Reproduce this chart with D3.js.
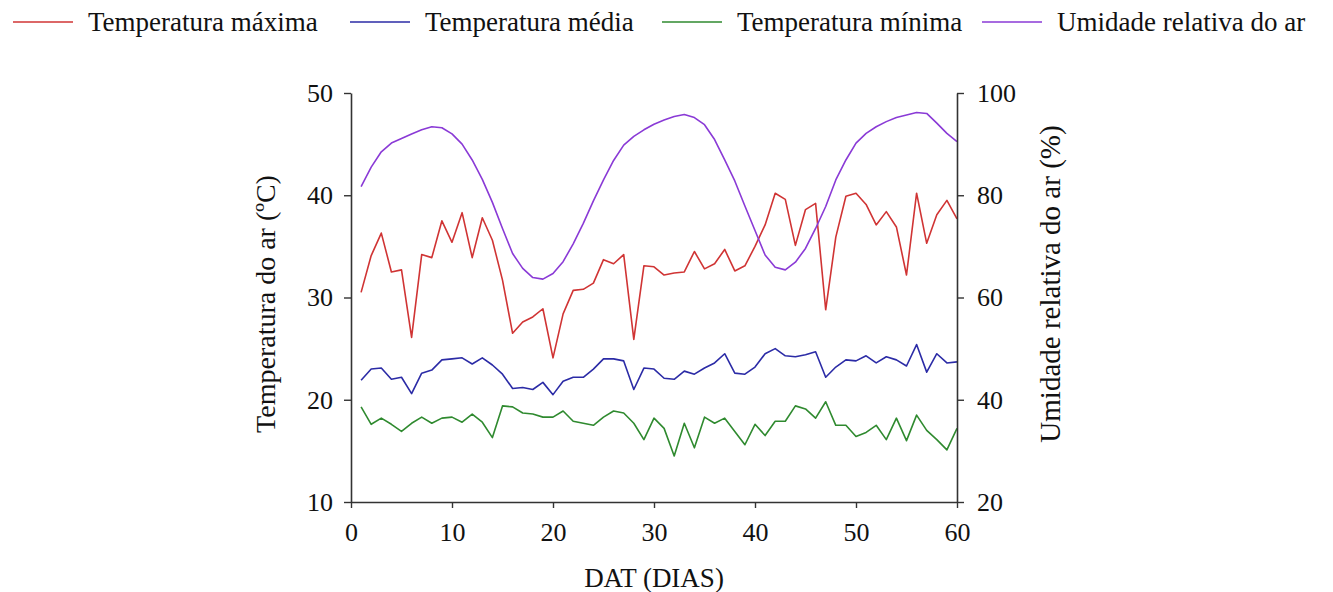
<!DOCTYPE html>
<html>
<head>
<meta charset="utf-8">
<script src="https://cdn.jsdelivr.net/npm/d3@7"></script>
<style>
  body { margin: 0; background: #fff; }
  svg text { font-family: "Liberation Serif", "Times New Roman", serif; fill: #111; }
</style>
</head>
<body>
<div id="chart"></div>
<script>
// days after transplanting
const days = d3.range(1, 61);

const tempMax = [30.5, 34.1, 36.3, 32.5, 32.7, 26.1, 34.2, 33.9, 37.5, 35.4,
                 38.3, 33.9, 37.8, 35.6, 31.7, 26.5, 27.6, 28.1, 28.9, 24.1,
                 28.4, 30.7, 30.8, 31.4, 33.7, 33.3, 34.2, 25.9, 33.1, 33.0,
                 32.2, 32.4, 32.5, 34.5, 32.8, 33.3, 34.7, 32.6, 33.1, 35.0,
                 37.1, 40.2, 39.6, 35.1, 38.6, 39.2, 28.8, 35.9, 39.9, 40.2,
                 39.1, 37.1, 38.4, 36.9, 32.2, 40.2, 35.3, 38.1, 39.5, 37.7];

const tempMed = [21.9, 23.0, 23.1, 22.0, 22.2, 20.6, 22.6, 22.9, 23.9, 24.0,
                 24.1, 23.5, 24.1, 23.4, 22.5, 21.1, 21.2, 21.0, 21.7, 20.5,
                 21.8, 22.2, 22.2, 23.0, 24.0, 24.0, 23.8, 21.0, 23.1, 23.0,
                 22.1, 22.0, 22.8, 22.5, 23.1, 23.6, 24.5, 22.6, 22.5, 23.2,
                 24.5, 25.0, 24.3, 24.2, 24.4, 24.7, 22.2, 23.2, 23.9, 23.8,
                 24.3, 23.6, 24.2, 23.9, 23.3, 25.4, 22.7, 24.5, 23.6, 23.7];

const tempMin = [19.3, 17.6, 18.2, 17.6, 16.9, 17.7, 18.3, 17.7, 18.2, 18.3,
                 17.8, 18.6, 17.8, 16.3, 19.4, 19.3, 18.7, 18.6, 18.3, 18.3,
                 18.9, 17.9, 17.7, 17.5, 18.3, 18.9, 18.7, 17.7, 16.1, 18.2,
                 17.2, 14.5, 17.7, 15.3, 18.3, 17.7, 18.2, 16.9, 15.6, 17.6,
                 16.5, 17.9, 17.9, 19.4, 19.1, 18.2, 19.8, 17.5, 17.5, 16.4,
                 16.8, 17.5, 16.1, 18.2, 16.0, 18.5, 17.0, 16.1, 15.1, 17.2];

const humidity = [81.7, 85.5, 88.5, 90.2, 91.1, 92.0, 92.8, 93.4, 93.2, 92.0,
                  90.0, 86.9, 83.1, 78.6, 73.5, 68.6, 65.7, 63.9, 63.6, 64.7,
                  67.0, 70.5, 74.5, 78.9, 83.0, 86.8, 89.8, 91.5, 92.8, 93.9,
                  94.7, 95.4, 95.8, 95.2, 93.8, 90.9, 86.9, 82.8, 77.9, 73.1,
                  68.3, 65.9, 65.4, 66.9, 69.6, 73.5, 77.8, 83.0, 86.9, 90.2,
                  92.1, 93.4, 94.4, 95.2, 95.7, 96.2, 96.0, 94.1, 92.1, 90.5];

const xTicks = [0, 10, 20, 30, 40, 50, 60];
const yLeftTicks = [10, 20, 30, 40, 50];
const yRightTicks = [20, 40, 60, 80, 100];

const series = [
  { name: "Temperatura máxima", values: tempMax, color: "#d03434", axis: "left" },
  { name: "Temperatura média", values: tempMed, color: "#2b2ba6", axis: "left" },
  { name: "Temperatura mínima", values: tempMin, color: "#2f8a2f", axis: "left" },
  { name: "Umidade relativa do ar", values: humidity, color: "#8a3ad6", axis: "right" }
];

const width = 1333, height = 592;
const margin = { top: 93, right: 376, bottom: 90, left: 351 };
const innerW = width - margin.left - margin.right;
const innerH = height - margin.top - margin.bottom;

const svg = d3.select("#chart").append("svg")
  .attr("width", width)
  .attr("height", height);

const g = svg.append("g").attr("transform", `translate(${margin.left},${margin.top})`);

const x = d3.scaleLinear().domain([0, 60]).range([0, innerW]);
const yL = d3.scaleLinear().domain([10, 50]).range([innerH, 0]);
const yR = d3.scaleLinear().domain([20, 100]).range([innerH, 0]);

// lines
series.forEach(s => {
  const y = s.axis === "left" ? yL : yR;
  const line = d3.line()
    .x((d, i) => x(days[i]))
    .y(d => y(d));
  g.append("path")
    .datum(s.values)
    .attr("fill", "none")
    .attr("stroke", s.color)
    .attr("stroke-width", 1.6)
    .attr("stroke-linejoin", "round")
    .attr("d", line);
});

// axes
function styleAxis(sel) {
  sel.select(".domain").attr("stroke", "#333").attr("stroke-width", 1.6);
  sel.selectAll(".tick line").attr("stroke", "#333").attr("stroke-width", 1.4);
  sel.selectAll(".tick text").style("font-size", "26px").attr("fill", "#111");
}

g.append("g")
  .attr("transform", `translate(0,${innerH})`)
  .call(d3.axisBottom(x).tickValues(xTicks).tickSize(6).tickSizeOuter(0).tickPadding(15))
  .call(styleAxis);

g.append("g")
  .call(d3.axisLeft(yL).tickValues(yLeftTicks).tickSize(7).tickSizeOuter(0).tickPadding(11))
  .call(styleAxis);

g.append("g")
  .attr("transform", `translate(${innerW},0)`)
  .call(d3.axisRight(yR).tickValues(yRightTicks).tickSize(7).tickSizeOuter(0).tickPadding(13))
  .call(styleAxis);

// axis titles
svg.append("text")
  .attr("transform", `translate(275,304) rotate(-90)`)
  .attr("text-anchor", "middle")
  .style("font-size", "28px")
  .text("Temperatura do ar (ºC)");

svg.append("text")
  .attr("transform", `translate(1060,284) rotate(-90)`)
  .attr("text-anchor", "middle")
  .style("font-size", "29px")
  .text("Umidade relativa do ar (%)");

svg.append("text")
  .attr("x", margin.left + innerW / 2)
  .attr("y", 587)
  .attr("text-anchor", "middle")
  .style("font-size", "27px")
  .text("DAT (DIAS)");

// legend
const legendX = [13, 350, 662, 982];
const legend = svg.append("g").attr("class", "legend");
series.forEach((s, i) => {
  const lg = legend.append("g").attr("transform", `translate(${legendX[i]},22)`);
  lg.append("line")
    .attr("x1", 0).attr("x2", 60)
    .attr("stroke", s.color).attr("stroke-width", 1.6);
  lg.append("text")
    .attr("x", 75).attr("dy", "0.35em")
    .style("font-size", "27px")
    .text(s.name);
});
</script>
</body>
</html>
